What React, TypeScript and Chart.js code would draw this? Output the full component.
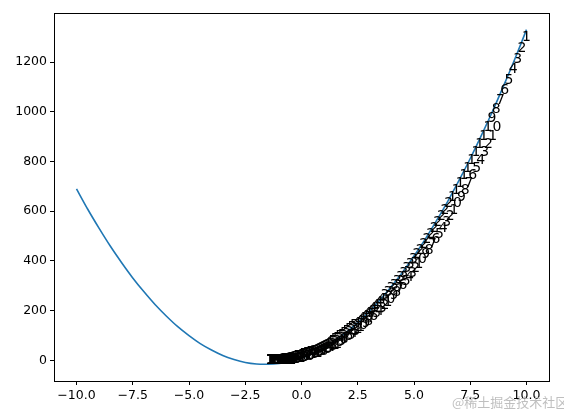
import React, { useEffect, useRef } from "react";
import { Chart, registerables } from "chart.js";

Chart.register(...registerables);

// Curve
const curveX = [-10, -9.5, -9, -8.5, -8, -7.5, -7, -6.5, -6, -5.5, -5, -4.5, -4, -3.5, -3, -2.5, -2, -1.5, -1, -0.5, 0, 0.5, 1, 1.5, 2, 2.5, 3, 3.5, 4, 4.5, 5, 5.5, 6, 6.5, 7, 7.5, 8, 8.5, 9, 9.5, 10];
const curveY = [690, 608, 532, 460, 394, 332, 276, 224, 178, 136, 100, 68, 42, 20, 4, -8, -14, -15, -12, -4, 10, 28, 52, 80, 114, 152, 196, 244, 298, 356, 420, 488, 562, 640, 724, 812, 906, 1004, 1108, 1216, 1330];

// Text annotation anchors (label n is drawn at labelX[n-1], labelY[n-1])
const labelX = [
  9.8, 9.6, 9.41, 9.21, 9.02, 8.83, 8.64, 8.46, 8.27,
  8.09, 7.9, 7.72, 7.55, 7.37, 7.19, 7.02, 6.85, 6.68, 6.51,
  6.34, 6.18, 6.02, 5.86, 5.7, 5.54, 5.38, 5.23, 5.08, 4.93,
  4.78, 4.63, 4.48, 4.34, 4.2, 4.06, 3.92, 3.78, 3.64, 3.51,
  3.38, 3.25, 3.12, 2.99, 2.87, 2.75, 2.62, 2.5, 2.39, 2.27,
  2.16, 2.04, 1.93, 1.82, 1.71, 1.61, 1.5, 1.4, 1.3, 1.2,
  1.1, 1.01, 0.91, 0.82, 0.73, 0.64, 0.56, 0.47, 0.39, 0.3,
  0.22, 0.15, 0.07, -0.01, -0.08, -0.15, -0.22, -0.29, -0.36, -0.42,
  -0.48, -0.54, -0.6, -0.66, -0.72, -0.77, -0.82, -0.88, -0.92, -0.97,
  -1.02, -1.06, -1.1, -1.14, -1.18, -1.22, -1.26, -1.29, -1.32, -1.35,
  -1.38, -1.41, -1.43, -1.45, -1.48, -1.5, -1.51, -1.53, -1.54, -1.56,
  -1.57, -1.58, -1.59, -1.59, -1.6, -1.6,
];
const labelY = [
  1284, 1240, 1196, 1154, 1113, 1072, 1033, 995, 958,
  923, 888, 854, 821, 789, 758, 728, 698, 670, 642,
  616, 590, 565, 540, 517, 494, 472, 451, 430, 410,
  391, 372, 354, 337, 320, 304, 289, 274, 259, 246,
  232, 220, 207, 195, 184, 173, 163, 153, 143, 134,
  125, 117, 109, 101, 94, 87, 81, 74, 69, 63,
  58, 52, 48, 43, 39, 35, 31, 27, 24, 21,
  18, 15, 12, 10, 8, 5, 3, 2, 0, -2,
  -3, -4, -6, -7, -8, -9, -10, -10, -11, -12,
  -12, -13, -13, -14, -14, -14, -14, -15, -15, -15,
  -15, -15, -15, -15, -15, -15, -15, -15, -15, -15,
  -15, -15, -15, -15, -15, -15,
];

const xTicks = [-10, -7.5, -5, -2.5, 0, 2.5, 5, 7.5, 10];
const yTicks = [0, 200, 400, 600, 800, 1000, 1200];
const watermark = "@稀土掘金技术社区";

const FONT = "'DejaVu Sans', sans-serif";

const extrasPlugin = {
  id: "extras",
  afterDraw(chart: any) {
    const { ctx, chartArea, scales } = chart;
    ctx.save();
    // frame
    ctx.strokeStyle = "#000";
    ctx.lineWidth = 1;
    ctx.strokeRect(
      Math.round(chartArea.left) + 0.5,
      Math.round(chartArea.top) + 0.5,
      Math.round(chartArea.right - chartArea.left),
      Math.round(chartArea.bottom - chartArea.top)
    );
    // annotations
    ctx.fillStyle = "#000";
    ctx.font = `14px ${FONT}`;
    ctx.textAlign = "left";
    ctx.textBaseline = "alphabetic";
    const n = Math.min(labelX.length, labelY.length);
    for (let i = 0; i < n; i++) {
      const px = scales.x.getPixelForValue(labelX[i]);
      const py = scales.y.getPixelForValue(labelY[i]);
      ctx.fillText(String(i + 1), px, py);
    }
    // watermark
    ctx.fillStyle = "rgba(170,170,170,0.75)";
    ctx.font = `13px 'Noto Sans CJK SC', sans-serif`;
    ctx.fillText(watermark, 452, 407);
    ctx.restore();
  },
};

export default function App() {
  const ref = useRef<HTMLCanvasElement | null>(null);
  useEffect(() => {
    document.body.style.margin = "0";
    const chart = new Chart(ref.current as HTMLCanvasElement, {
      type: "line",
      data: {
        datasets: [
          {
            data: curveX.map((x, i) => ({ x, y: curveY[i] })),
            borderColor: "#1f77b4",
            borderWidth: 1.6,
            pointRadius: 0,
            tension: 0.3,
            fill: false,
          },
        ],
      },
      options: {
        responsive: false,
        animation: false,
        layout: { padding: { top: 13, right: 15, bottom: 0, left: 0 } },
        plugins: { legend: { display: false }, tooltip: { enabled: false } },
        scales: {
          x: {
            type: "linear",
            min: -11,
            max: 11,
            afterBuildTicks: (s: any) => {
              s.ticks = xTicks.map((v) => ({ value: v }));
            },
            afterFit: (s: any) => {
              s.height = 31;
            },
            border: { display: false },
            grid: { display: true, drawOnChartArea: false, drawTicks: true, tickLength: 4, tickColor: "#000" },
            ticks: {
              color: "#000",
              padding: 3,
              maxRotation: 0,
              autoSkip: false,
              font: { family: FONT, size: 12.5 },
              callback: (v: any) => Number(v).toFixed(1).replace("-", "\u2212"),
            },
          },
          y: {
            type: "linear",
            min: -82.5,
            max: 1397,
            afterBuildTicks: (s: any) => {
              s.ticks = yTicks.map((v) => ({ value: v }));
            },
            afterFit: (s: any) => {
              s.width = 54;
            },
            border: { display: false },
            grid: { display: true, drawOnChartArea: false, drawTicks: true, tickLength: 4, tickColor: "#000" },
            ticks: {
              color: "#000",
              padding: 3,
              autoSkip: false,
              font: { family: FONT, size: 12.5 },
              callback: (v: any) => String(v),
            },
          },
        },
      },
      plugins: [extrasPlugin],
    });
    return () => chart.destroy();
  }, []);
  return (
    <div style={{ position: "absolute", left: 0, top: 0, width: 564, height: 412, background: "#fff" }}>
      <canvas ref={ref} width={564} height={412} style={{ width: 564, height: 412 }} />
    </div>
  );
}
